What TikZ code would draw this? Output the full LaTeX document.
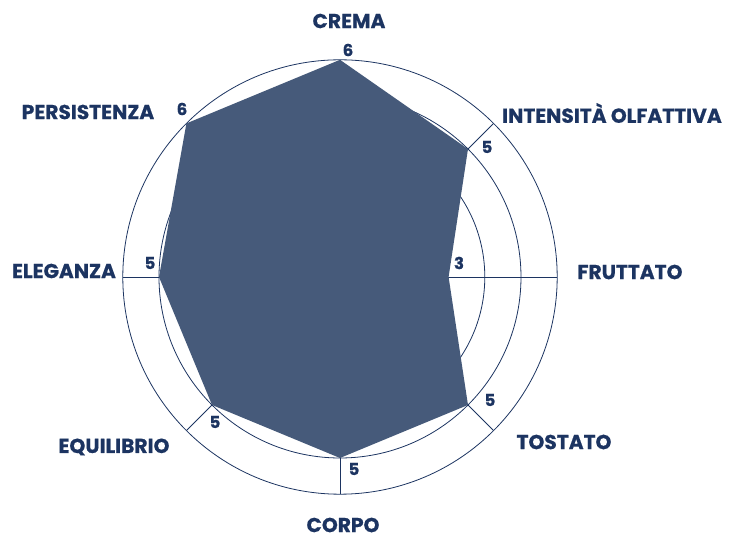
\documentclass[tikz,border=0pt]{standalone}
\usepackage{fontspec}
\setmainfont{Poppins}[BoldFeatures={FakeBold=0.6}]
\usetikzlibrary{positioning}
\definecolor{navy}{HTML}{1C3461}
\definecolor{slate}{HTML}{465A7A}

\begin{document}
\begin{tikzpicture}[x=1pt,y=1pt,
  ring/.style={draw=navy, line width=0.8pt},
  lab/.style={text=navy, font=\bfseries\fontsize{20.2}{20}\selectfont},
  val/.style={text=navy, font=\bfseries\fontsize{16.5}{16}\selectfont}]
\useasboundingbox (-340,-263) rectangle (397,277);
\coordinate (O) at (0,0);
\foreach \r in {4,5,6} \draw[ring] (O) circle ({36.2*\r});
\foreach \a/\n/\v in {90/cr/6,45/in/5,0/fr/3,-45/to/5,-90/co/5,-135/eq/5,180/el/5,135/pe/6}{
  \coordinate (\n) at (\a:217);
  \coordinate (v\n) at (\a:{36.2*\v});
  \draw[ring] (O) -- (\n);
}
\fill[slate] (vcr) -- (vin) -- (vfr) -- (vto) -- (vco) -- (veq) -- (vel) -- (vpe) -- cycle;

\node[lab] (crema) at (9,256) {CREMA};
\node[lab] (intensita) at (272,164) {INTENSITÀ OLFATTIVA};
\node[lab] (fruttato) at (290,5) {FRUTTATO};
\node[lab] (tostato) at (224,-165) {TOSTATO};
\node[lab] (corpo) at (3,-248) {CORPO};
\node[lab] (equilibrio) at (-226,-170) {EQUILIBRIO};
\node[lab] (eleganza) at (-276,6) {ELEGANZA};
\node[lab] (persistenza) at (-252,165) {PERSISTENZA};

\node[val] (ncr) at (8,227) {6};
\node[val] (nin) at (147,130) {5};
\node[val] (nfr) at (119,14) {3};
\node[val] (nto) at (150,-123) {5};
\node[val] (nco) at (14,-192) {5};
\node[val] (neq) at (-125,-145) {5};
\node[val] (nel) at (-190,14) {5};
\node[val] (npe) at (-158,168) {6};
\end{tikzpicture}
\end{document}
